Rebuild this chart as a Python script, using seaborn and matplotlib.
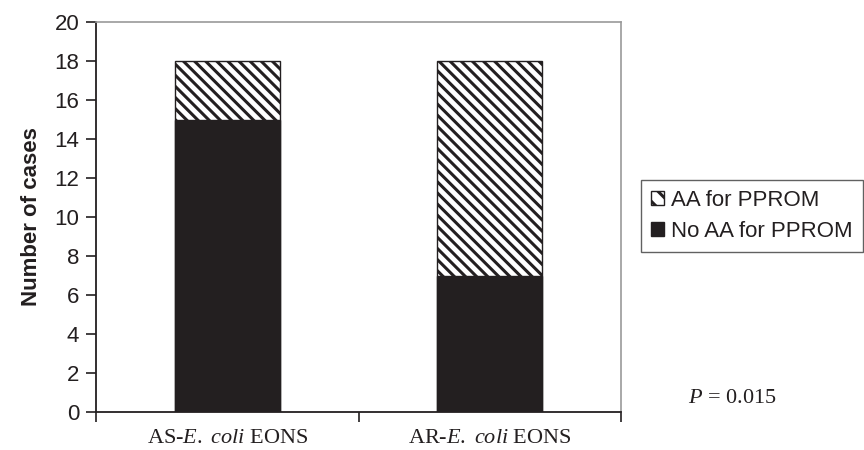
import numpy as np
import pandas as pd
import matplotlib
matplotlib.use("Agg")
import matplotlib.pyplot as plt
import matplotlib.patches as mpatches
import seaborn as sns

# data
groups = [r"AS-$\it{E.\ coli}$ EONS", r"AR-$\it{E.\ coli}$ EONS"]
no_aa = [15, 7]      # No AA for PPROM (solid)
with_aa = [3, 11]    # AA for PPROM (hatched)
p_text = r"$\it{P}$ = 0.015"

sns.set_style("white")
sns.set_style("ticks")
plt.rcParams["font.family"] = ["Liberation Sans", "DejaVu Sans"]
plt.rcParams["mathtext.fontset"] = "custom"
plt.rcParams["mathtext.rm"] = "Liberation Serif"
plt.rcParams["mathtext.it"] = "Liberation Serif:italic"
plt.rcParams["hatch.linewidth"] = 2.2
plt.rcParams["hatch.color"] = "#231f20"

dark = "#231f20"
hatch = "\\\\\\"

df = pd.DataFrame({
    "group": groups,
    "total": np.array(no_aa) + np.array(with_aa),
    "no_aa": no_aa,
})

fig = plt.figure(figsize=(8.64, 4.5), dpi=100)
ax = fig.add_axes([0.111, 0.0844, 0.608, 0.8667])

# full stack first (hatched), then the solid part on top of it
sns.barplot(data=df, x="group", y="total", color="white", width=0.4,
            edgecolor=dark, linewidth=1.0, saturation=1, ax=ax)
for p in ax.patches:
    p.set_hatch(hatch)
sns.barplot(data=df, x="group", y="no_aa", color=dark, width=0.4,
            edgecolor=dark, linewidth=1.0, saturation=1, ax=ax)

ax.set_xlim(-0.5, 1.5)
ax.set_ylim(0, 20)
ax.set_yticks(np.arange(0, 21, 2))
ax.set_xlabel("")
ax.set_ylabel("Number of cases", fontsize=16, fontweight="bold", color=dark, labelpad=9)

ax.set_xticks([0, 1])
ax.set_xticklabels(groups, fontsize=16, color=dark, family="Liberation Serif")
ax.tick_params(axis="x", which="major", length=0, pad=12)
ax.set_xticks([-0.5, 0.5, 1.5], minor=True)
ax.tick_params(axis="x", which="minor", length=7, width=1.2, color=dark, direction="out")
ax.tick_params(axis="y", length=7, width=1.2, color=dark, labelsize=16,
               labelcolor=dark, pad=5)

for s in ["left", "bottom"]:
    ax.spines[s].set_color(dark)
    ax.spines[s].set_linewidth(1.3)
for s in ["top", "right"]:
    ax.spines[s].set_color("#9a9a9a")
    ax.spines[s].set_linewidth(1.2)

handles = [
    mpatches.Patch(facecolor="white", edgecolor=dark, hatch="\\\\", linewidth=1.0,
                   label="AA for PPROM"),
    mpatches.Patch(facecolor=dark, edgecolor=dark, label="No AA for PPROM"),
]
leg = fig.legend(handles=handles, loc="upper left", bbox_to_anchor=(0.742, 0.6),
                 bbox_transform=fig.transFigure, fontsize=16, frameon=True,
                 fancybox=False, handlelength=0.6, handleheight=0.6,
                 handletextpad=0.3, borderpad=0.45, labelspacing=0.45,
                 borderaxespad=0)
leg.get_frame().set_edgecolor("#3a3a3a")
leg.get_frame().set_linewidth(1.0)
for t in leg.get_texts():
    t.set_color(dark)

fig.text(0.847, 0.115, p_text, fontsize=16, color=dark, ha="center", va="center",
         family="Liberation Serif")

fig.savefig("out.png", dpi=100)
